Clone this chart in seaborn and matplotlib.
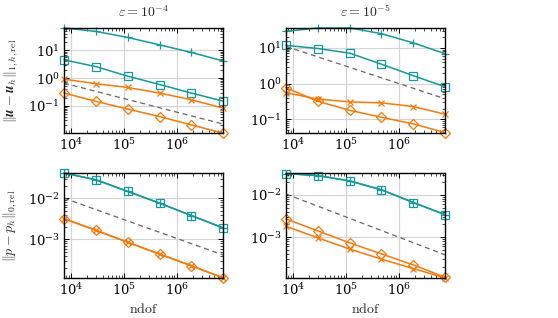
import numpy as np
import matplotlib
matplotlib.use("Agg")
import matplotlib.pyplot as plt
import seaborn as sns

# ndof for every refinement level
ndof = [7.3e3, 2.95e4, 1.18e5, 4.7e5, 1.88e6, 7.5e6]
ref_x = [ndof[0], ndof[-1]]

# velocity errors, eps = 1e-4
u4_plus = [65, 49, 29.5, 16, 8.5, 4.2]
u4_sq = [4.6, 2.6, 1.18, 0.59, 0.29, 0.148]
u4_x = [0.92, 0.63, 0.46, 0.29, 0.166, 0.083]
u4_dia = [0.29, 0.145, 0.076, 0.041, 0.0205, 0.0103]
u4_ref = [0.66, 0.022]

# velocity errors, eps = 1e-5
u5_plus = [29, 36, 36, 25, 13.8, 6.9]
u5_sq = [11.8, 9.6, 7.1, 3.5, 1.67, 0.82]
u5_x = [0.56, 0.37, 0.31, 0.29, 0.23, 0.14]
u5_dia = [0.77, 0.32, 0.18, 0.115, 0.075, 0.043]
u5_ref = [11.0, 0.38]

# pressure errors, eps = 1e-4
p4_plus = [0.041, 0.028, 0.0146, 0.0076, 0.0038, 0.0019]
p4_sq = [0.041, 0.028, 0.0146, 0.0076, 0.0038, 0.0019]
p4_x = [0.0032, 0.00166, 0.00085, 0.00044, 0.00023, 0.000116]
p4_dia = [0.0032, 0.00166, 0.00085, 0.00044, 0.00023, 0.000116]
p4_ref = [0.01, 0.00042]

# pressure errors, eps = 1e-5
p5_plus = [0.032, 0.0286, 0.0214, 0.0132, 0.0066, 0.0034]
p5_sq = [0.032, 0.0286, 0.0214, 0.0132, 0.0066, 0.0034]
p5_x = [0.0018, 0.00096, 0.00052, 0.0003, 0.00018, 0.000108]
p5_dia = [0.0027, 0.0014, 0.00073, 0.0004, 0.00022, 0.000112]
p5_ref = [0.0105, 0.00038]

titles = [r"$\varepsilon = 10^{-4}$", r"$\varepsilon = 10^{-5}$"]
ylabels = [r"$\|\boldsymbol{u} - \boldsymbol{u}_h\|_{1,h,\mathrm{rel}}$",
           r"$\|p - p_h\|_{0,\mathrm{rel}}$"]
ylims = [(0.0105, 65), (0.042, 36), (1.16e-4, 0.041), (1.08e-4, 0.033)]

teal = "#17999a"
orange = "#f47a0c"

sns.set_theme(style="ticks")
plt.rcParams["mathtext.fontset"] = "cm"
plt.rcParams["font.family"] = ["DejaVu Serif"]

fig = plt.figure(figsize=(5.58, 3.18), dpi=100)
pos = [(0.1147, 0.582), (0.5125, 0.582), (0.1147, 0.126), (0.5125, 0.126)]
panels = [
    (u4_plus, u4_sq, u4_x, u4_dia, u4_ref),
    (u5_plus, u5_sq, u5_x, u5_dia, u5_ref),
    (p4_plus, p4_sq, p4_x, p4_dia, p4_ref),
    (p5_plus, p5_sq, p5_x, p5_dia, p5_ref),
]

for i, (plus, sq, xs, dia, ref) in enumerate(panels):
    ax = fig.add_axes([pos[i][0], pos[i][1], 0.285, 0.330])
    ax.set_xscale("log")
    ax.set_yscale("log")
    ax.grid(True, which="major", color="#d4d4d4", lw=0.8)
    ax.set_axisbelow(True)

    sns.lineplot(x=ref_x, y=ref, ax=ax, color="#666666", lw=0.9,
                 linestyle=(0, (4, 3)))
    sns.lineplot(x=ndof, y=plus, ax=ax, color=teal, lw=1.1, marker="+",
                 markersize=6, markeredgewidth=0.9, markeredgecolor=teal, clip_on=False)
    sns.lineplot(x=ndof, y=sq, ax=ax, color=teal, lw=1.1, marker="s",
                 markersize=6, markerfacecolor="none", markeredgewidth=0.9,
                 markeredgecolor=teal, clip_on=False)
    sns.lineplot(x=ndof, y=xs, ax=ax, color=orange, lw=1.1, marker="x",
                 markersize=4, markeredgewidth=0.9, markeredgecolor=orange, clip_on=False)
    sns.lineplot(x=ndof, y=dia, ax=ax, color=orange, lw=1.1, marker="D",
                 markersize=5.5, markerfacecolor="none", markeredgewidth=0.9,
                 markeredgecolor=orange, clip_on=False)

    ax.set_xlim(ndof[0], ndof[-1])
    ax.set_ylim(*ylims[i])
    ax.set_xticks([1e4, 1e5, 1e6])
    ax.tick_params(which="both", direction="in", top=True, right=True,
                   labelsize=9.5, colors="black", pad=3)
    ax.tick_params(which="major", length=3.5, width=0.7)
    ax.tick_params(which="minor", length=2, width=0.5)
    for s in ax.spines.values():
        s.set_color("black")
        s.set_linewidth(1.0)

    if i < 2:
        ax.set_title(titles[i], fontsize=10, pad=8)
    else:
        ax.set_xlabel(r"$\mathrm{ndof}$", fontsize=10, labelpad=3)
    if i % 2 == 0:
        ax.set_ylabel(ylabels[i // 2], fontsize=10, labelpad=6)

fig.savefig("out.png", dpi=100)
